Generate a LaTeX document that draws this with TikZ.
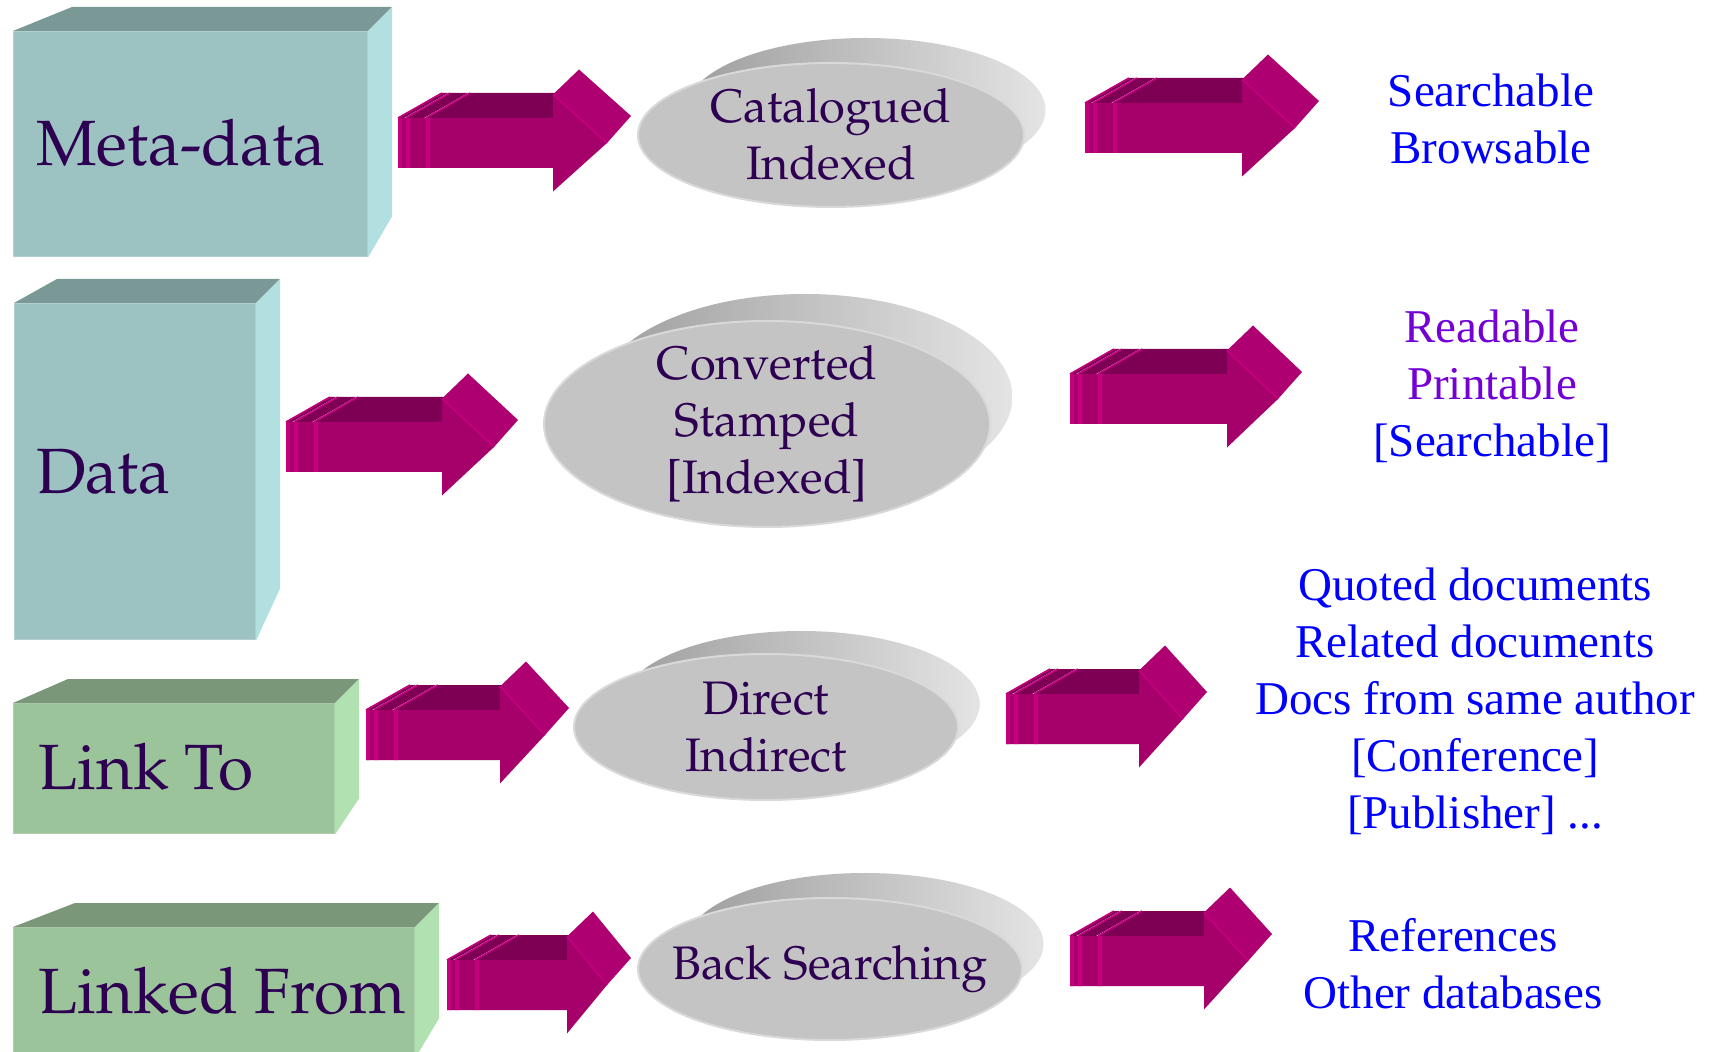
\documentclass[tikz,border=0pt]{standalone}
\usepackage[T1]{fontenc}
\usepackage{fontspec}
\setmainfont{Liberation Serif}
\usepackage{tikz}
\usetikzlibrary{shapes.geometric,calc}

\definecolor{tealfront}{HTML}{9CC3C2}
\definecolor{tealtop}{HTML}{799896}
\definecolor{tealside}{HTML}{B2E0E0}
\definecolor{greenfront}{HTML}{9BC49B}
\definecolor{greentop}{HTML}{7A977A}
\definecolor{greenside}{HTML}{B1E1B1}
\definecolor{inktext}{HTML}{2E0052}
\definecolor{arrowfront}{HTML}{A6006B}
\definecolor{arrowtop}{HTML}{7E0055}
\definecolor{arrowhead}{HTML}{AE0070}
\definecolor{arrowlight}{HTML}{C4007F}
\definecolor{discfront}{HTML}{C4C4C4}
\definecolor{discrim}{HTML}{D9D9D9}
\definecolor{discdark}{HTML}{9E9E9E}
\definecolor{disclight}{HTML}{E4E4E4}
\definecolor{listblue}{HTML}{0000FF}
\definecolor{listpurple}{HTML}{7300D4}

\newcommand{\palafont}{\fontencoding{T1}\fontfamily{ppl}\selectfont}

% 3D box: palette, name, north west corner, width, height, back shift, rise
\newcommand{\cubenode}[7]{%
  \node[cubefront,fill=#1front,draw=#1front!80!white,minimum width=#4*0.5pt,minimum height=#5*0.5pt] at (#3) (#2) {};
  \fill[#1top] (#2.north west) -- ++(#6,-24) -- ($(#2.north east)+(24,-24)$) -- (#2.north east) -- cycle;
  \fill[#1side] (#2.north east) -- ++(24,-24) -- ($(#2.south east)+(24,-#7)$) -- (#2.south east) -- cycle;}

% disc with its shadow: name, centre, x radius, y radius, shadow shift, text
\newcommand{\discnode}[6]{%
  \shade[left color=discdark,right color=disclight] ($(#2)+(#5)$) ellipse [x radius=0.93*#3,y radius=#4];
  \node[disc,minimum width=#3*1pt,minimum height=#4*1pt] at (#2) (#1) {};
  \node[disctext] at (#1.center) (#1-t) {#6};}

% block arrow: tail point, body length, head length
\newcommand{\blockarrow}[3]{%
  \begin{scope}[shift={(#1)}]
    \fill[arrowtop] (28,-25) -- (72,-50) -- (#2+26,-50) -- (#2,-25) -- cycle;
    \fill[arrowtop] (8,-25) -- (52,-50) -- (70,-50) -- (26,-25) -- cycle;
    \fill[arrowtop] (0,-25) -- (44,-50) -- (50,-50) -- (6,-25) -- cycle;
    \draw[arrowlight,line width=0.8pt] (0,-25) -- (44,-50) (8,-25) -- (52,-50) (28,-25) -- (72,-50);
    \fill[arrowfront] (0,-25) -- (#2,-25) -- (#2,-48.5) -- (#2+#3,0) -- (#2,48.5) -- (#2,25) -- (0,25) -- cycle;
    \fill[arrowlight] (0,-25) rectangle (4,25) (8,-25) rectangle (12,25) (28,-25) rectangle (32,25);
    \fill[arrowhead] (#2,-48.5) -- (#2+26,-73.5) -- (#2+#3+24,-27) -- (#2+#3,0) -- cycle;
    \draw[arrowlight,line width=0.8pt] (#2,-48.5) -- (#2+#3,0);
  \end{scope}}

\tikzset{
  cubefront/.style={rectangle,anchor=north west,inner sep=0,line width=0.6pt},
  cubetext/.style={anchor=base west,inner sep=0,text=inktext,font=\palafont\fontsize{32}{38}\selectfont},
  disc/.style={ellipse,fill=discfront,draw=discrim,line width=1pt,inner sep=0},
  disctext/.style={inner sep=0,align=center,text=inktext,font=\palafont\fontsize{23.5}{28.5}\selectfont},
  listtext/.style={anchor=base,inner sep=0,align=center,text=listblue,font=\fontsize{23.5}{28.5}\selectfont},
}

\begin{document}
\begin{tikzpicture}[x=0.5pt,y=-0.5pt]
  \path[use as bounding box,fill=white] (0,0) rectangle (1722,1052);

  % sources
  \cubenode{teal}{meta}{13,31}{354}{225}{59}{41}
  \cubenode{teal}{data}{14,303}{241}{336}{43}{52}
  \cubenode{green}{linkto}{13,703}{321}{130}{55}{36}
  \cubenode{green}{linkedfrom}{13,927}{401}{130}{62}{40}
  \node[cubetext] (meta-t) at (36,166) {Meta-data};
  \node[cubetext] (data-t) at (36,494) {Data};
  \node[cubetext] (linkto-t) at (38,789) {Link To};
  \node[cubetext] (linkedfrom-t) at (38,1013) {Linked From};

  % processing
  \discnode{cat}{831,135}{193}{72}{35,-25}{Catalogued\\Indexed}
  \discnode{conv}{767,424}{223}{103}{38,-27}{Converted\\Stamped\\{[Indexed]}}
  \discnode{direct}{766,727}{192}{73}{35,-23}{Direct\\Indirect}
  \discnode{back}{830,969}{192}{71}{35,-25}{Back Searching}

  % arrows
  \blockarrow{398,143}{155}{54}
  \blockarrow{286,447}{156}{52}
  \blockarrow{366,735}{134}{45}
  \blockarrow{447,985}{120}{40}
  \blockarrow{1085,128}{157}{53}
  \blockarrow{1070,399}{157}{51}
  \blockarrow{1006,719}{133}{44}
  \blockarrow{1070,961}{134}{44}

  % results (base is the last line)
  \node[listtext] (out-meta) at (1491,164) {Searchable\\Browsable};
  \node[listtext] (out-data) at (1492,457)
    {\textcolor{listpurple}{Readable}\\\textcolor{listpurple}{Printable}\\{[Searchable]}};
  \node[listtext] (out-linkto) at (1475,828)
    {Quoted documents\\Related documents\\Docs from same author\\{[Conference]}\\{[Publisher] ...}};
  \node[listtext] (out-linkedfrom) at (1453,1008) {References\\Other databases};
\end{tikzpicture}
\end{document}
